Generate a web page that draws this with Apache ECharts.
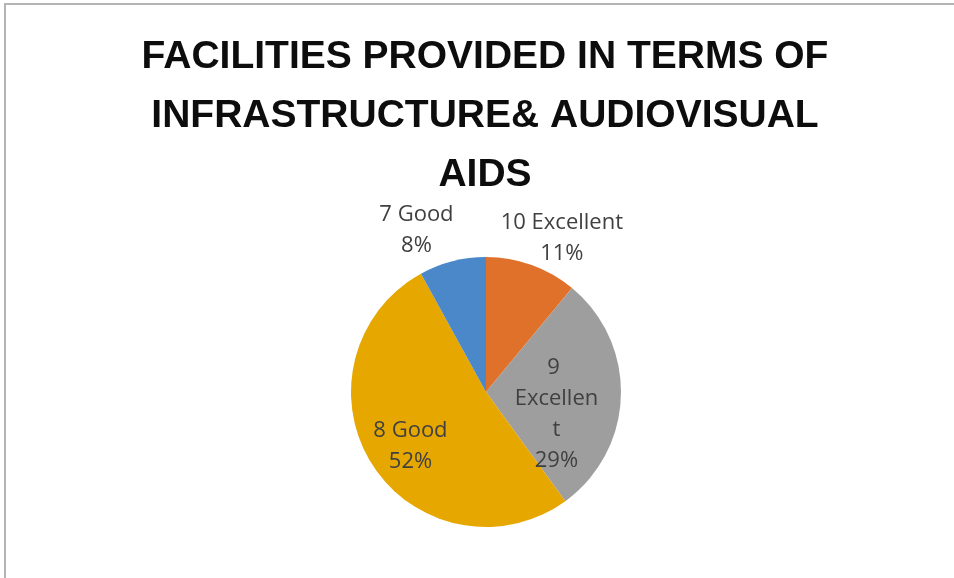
<!DOCTYPE html>
<html>
<head>
<meta charset="utf-8">
<script src="https://cdn.jsdelivr.net/npm/echarts@6/dist/echarts.min.js"></script>
<style>
html,body{margin:0;padding:0;background:#fff;}
#main{width:954px;height:578px;}
</style>
</head>
<body>
<div id="main"></div>
<script>
const titleText = 'FACILITIES PROVIDED IN TERMS OF\nINFRASTRUCTURE& AUDIOVISUAL\nAIDS';
const categories = ['10 Excellent', '9 Excellent', '8 Good', '7 Good'];
const values = [11, 29, 52, 8];
const colors = ['#E0712B', '#9E9E9E', '#E6A700', '#4A88C9'];
const labelOffsets = [[52, -87], [0, 20], [-16, 16], [-52, -93]];

const chart = echarts.init(document.getElementById('main'), null, {renderer: 'canvas'});
const data = categories.map((c, i) => {
  const item = {
    name: c,
    value: values[i],
    itemStyle: {color: colors[i]},
    label: {offset: labelOffsets[i]}
  };
  if (i === 1) {
    item.label.width = 88;
    item.label.overflow = 'break';
  }
  return item;
});

chart.setOption({
  backgroundColor: '#ffffff',
  animation: false,
  title: {
    text: titleText,
    left: 485,
    top: 28,
    padding: 0,
    textAlign: 'center',
    textStyle: {
      fontFamily: 'Liberation Sans',
      fontWeight: 'bold',
      fontSize: 39,
      lineHeight: 59,
      color: '#0d0d0d'
    }
  },
  graphic: [
    {type: 'line', shape: {x1: 4, y1: 4, x2: 954, y2: 4}, style: {stroke: '#b4b4b4', lineWidth: 2}},
    {type: 'line', shape: {x1: 5, y1: 4, x2: 5, y2: 578}, style: {stroke: '#b4b4b4', lineWidth: 2}}
  ],
  series: [{
    type: 'pie',
    center: [486, 392],
    radius: [0, 135],
    startAngle: 90,
    clockwise: true,
    avoidLabelOverlap: false,
    itemStyle: {borderWidth: 0},
    label: {
      show: true,
      position: 'inside',
      formatter: '{b}\n{d}%',
      fontFamily: 'Open Sans',
      fontSize: 22,
      lineHeight: 31,
      color: '#404040',
      align: 'center'
    },
    labelLine: {show: false},
    emphasis: {disabled: true},
    data: data
  }]
});
</script>
</body>
</html>
